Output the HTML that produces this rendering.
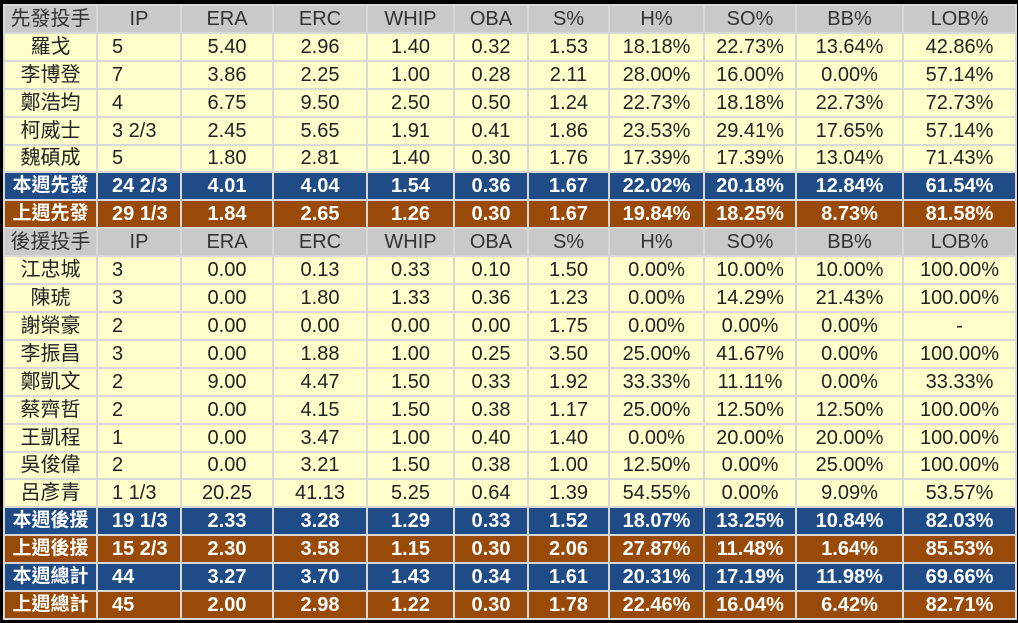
<!DOCTYPE html>
<html><head><meta charset="utf-8"><style>
html,body{margin:0;padding:0;background:#000;width:1018px;height:623px;overflow:hidden}
table{position:absolute;left:3px;top:4px;width:1012px;height:616px;border-collapse:collapse;table-layout:fixed;
font-family:"Liberation Sans","Noto Sans CJK TC",sans-serif;font-size:20px;color:#222}
td{border:2px solid #d8d8d8;height:24px;padding:0;text-align:center;line-height:24px;white-space:nowrap;background:#ffffcc}
td.ip{text-align:left;padding-left:14px}
tr.h td{background:#c9c9c9;color:#333}
tr.h td.ip{text-align:center;padding-left:0}
tr.b td{background:#1f4b87;color:#fff;font-weight:bold}
tr.o td{background:#9a4a08;color:#fff;font-weight:bold}
tr.b td:first-child,tr.o td:first-child{font-size:19px}
</style></head><body>
<table>
<colgroup><col style="width:93px"><col style="width:84px"><col style="width:92px"><col style="width:94px"><col style="width:87px"><col style="width:74px"><col style="width:81px"><col style="width:95px"><col style="width:92px"><col style="width:107px"><col style="width:113px"></colgroup>
<tr class="h"><td>先發投手</td><td class="ip">IP</td><td>ERA</td><td>ERC</td><td>WHIP</td><td>OBA</td><td>S%</td><td>H%</td><td>SO%</td><td>BB%</td><td>LOB%</td></tr>
<tr><td>羅戈</td><td class="ip">5</td><td>5.40</td><td>2.96</td><td>1.40</td><td>0.32</td><td>1.53</td><td>18.18%</td><td>22.73%</td><td>13.64%</td><td>42.86%</td></tr>
<tr><td>李博登</td><td class="ip">7</td><td>3.86</td><td>2.25</td><td>1.00</td><td>0.28</td><td>2.11</td><td>28.00%</td><td>16.00%</td><td>0.00%</td><td>57.14%</td></tr>
<tr><td>鄭浩均</td><td class="ip">4</td><td>6.75</td><td>9.50</td><td>2.50</td><td>0.50</td><td>1.24</td><td>22.73%</td><td>18.18%</td><td>22.73%</td><td>72.73%</td></tr>
<tr><td>柯威士</td><td class="ip">3 2/3</td><td>2.45</td><td>5.65</td><td>1.91</td><td>0.41</td><td>1.86</td><td>23.53%</td><td>29.41%</td><td>17.65%</td><td>57.14%</td></tr>
<tr><td>魏碩成</td><td class="ip">5</td><td>1.80</td><td>2.81</td><td>1.40</td><td>0.30</td><td>1.76</td><td>17.39%</td><td>17.39%</td><td>13.04%</td><td>71.43%</td></tr>
<tr class="b"><td>本週先發</td><td class="ip">24 2/3</td><td>4.01</td><td>4.04</td><td>1.54</td><td>0.36</td><td>1.67</td><td>22.02%</td><td>20.18%</td><td>12.84%</td><td>61.54%</td></tr>
<tr class="o"><td>上週先發</td><td class="ip">29 1/3</td><td>1.84</td><td>2.65</td><td>1.26</td><td>0.30</td><td>1.67</td><td>19.84%</td><td>18.25%</td><td>8.73%</td><td>81.58%</td></tr>
<tr class="h"><td>後援投手</td><td class="ip">IP</td><td>ERA</td><td>ERC</td><td>WHIP</td><td>OBA</td><td>S%</td><td>H%</td><td>SO%</td><td>BB%</td><td>LOB%</td></tr>
<tr><td>江忠城</td><td class="ip">3</td><td>0.00</td><td>0.13</td><td>0.33</td><td>0.10</td><td>1.50</td><td>0.00%</td><td>10.00%</td><td>10.00%</td><td>100.00%</td></tr>
<tr><td>陳琥</td><td class="ip">3</td><td>0.00</td><td>1.80</td><td>1.33</td><td>0.36</td><td>1.23</td><td>0.00%</td><td>14.29%</td><td>21.43%</td><td>100.00%</td></tr>
<tr><td>謝榮豪</td><td class="ip">2</td><td>0.00</td><td>0.00</td><td>0.00</td><td>0.00</td><td>1.75</td><td>0.00%</td><td>0.00%</td><td>0.00%</td><td>-</td></tr>
<tr><td>李振昌</td><td class="ip">3</td><td>0.00</td><td>1.88</td><td>1.00</td><td>0.25</td><td>3.50</td><td>25.00%</td><td>41.67%</td><td>0.00%</td><td>100.00%</td></tr>
<tr><td>鄭凱文</td><td class="ip">2</td><td>9.00</td><td>4.47</td><td>1.50</td><td>0.33</td><td>1.92</td><td>33.33%</td><td>11.11%</td><td>0.00%</td><td>33.33%</td></tr>
<tr><td>蔡齊哲</td><td class="ip">2</td><td>0.00</td><td>4.15</td><td>1.50</td><td>0.38</td><td>1.17</td><td>25.00%</td><td>12.50%</td><td>12.50%</td><td>100.00%</td></tr>
<tr><td>王凱程</td><td class="ip">1</td><td>0.00</td><td>3.47</td><td>1.00</td><td>0.40</td><td>1.40</td><td>0.00%</td><td>20.00%</td><td>20.00%</td><td>100.00%</td></tr>
<tr><td>吳俊偉</td><td class="ip">2</td><td>0.00</td><td>3.21</td><td>1.50</td><td>0.38</td><td>1.00</td><td>12.50%</td><td>0.00%</td><td>25.00%</td><td>100.00%</td></tr>
<tr><td>呂彥青</td><td class="ip">1 1/3</td><td>20.25</td><td>41.13</td><td>5.25</td><td>0.64</td><td>1.39</td><td>54.55%</td><td>0.00%</td><td>9.09%</td><td>53.57%</td></tr>
<tr class="b"><td>本週後援</td><td class="ip">19 1/3</td><td>2.33</td><td>3.28</td><td>1.29</td><td>0.33</td><td>1.52</td><td>18.07%</td><td>13.25%</td><td>10.84%</td><td>82.03%</td></tr>
<tr class="o"><td>上週後援</td><td class="ip">15 2/3</td><td>2.30</td><td>3.58</td><td>1.15</td><td>0.30</td><td>2.06</td><td>27.87%</td><td>11.48%</td><td>1.64%</td><td>85.53%</td></tr>
<tr class="b"><td>本週總計</td><td class="ip">44</td><td>3.27</td><td>3.70</td><td>1.43</td><td>0.34</td><td>1.61</td><td>20.31%</td><td>17.19%</td><td>11.98%</td><td>69.66%</td></tr>
<tr class="o"><td>上週總計</td><td class="ip">45</td><td>2.00</td><td>2.98</td><td>1.22</td><td>0.30</td><td>1.78</td><td>22.46%</td><td>16.04%</td><td>6.42%</td><td>82.71%</td></tr>
</table>
</body></html>
